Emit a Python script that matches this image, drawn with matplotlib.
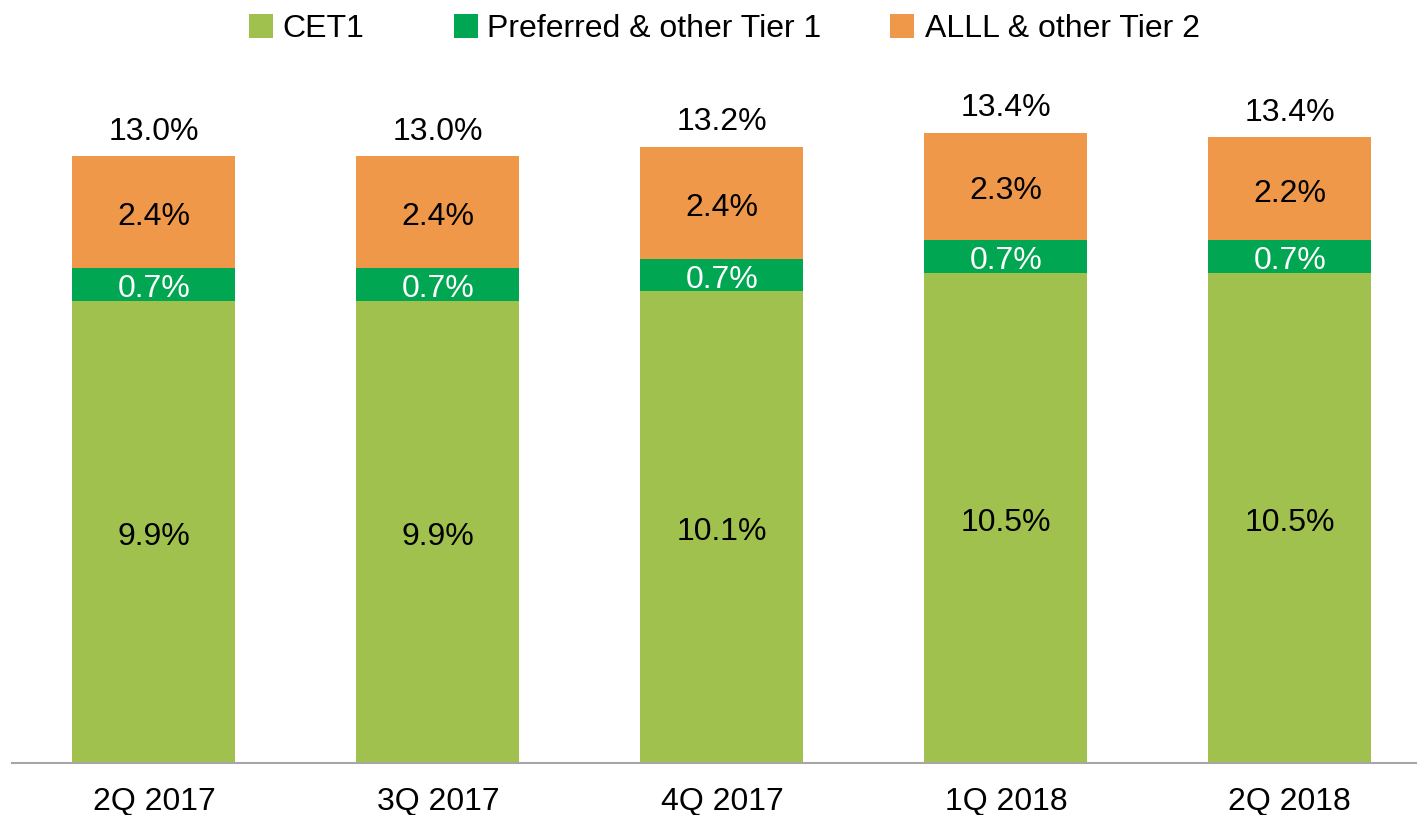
import matplotlib
matplotlib.use("Agg")
import matplotlib.pyplot as plt
from matplotlib.patches import Rectangle

plt.rcParams["font.family"] = ["Liberation Sans", "DejaVu Sans"]

quarters = ["2Q 2017", "3Q 2017", "4Q 2017", "1Q 2018", "2Q 2018"]
cet1 = [9.9, 9.9, 10.1, 10.5, 10.5]
preferred = [0.7, 0.7, 0.7, 0.7, 0.7]
alll = [2.4, 2.4, 2.4, 2.3, 2.2]
totals = [13.0, 13.0, 13.2, 13.4, 13.4]

series_names = ["CET1", "Preferred & other Tier 1", "ALLL & other Tier 2"]
colors = ["#A1C14E", "#00A651", "#F0984A"]
label_colors = ["black", "white", "black"]
FS = 23

W, H = 1417, 815
fig = plt.figure(figsize=(W / 100, H / 100), dpi=100)
ax = fig.add_axes([12 / W, 52 / H, (W - 12) / W, 677 / H])

x = list(range(len(quarters)))
bar_w = 0.574
bottoms = [0.0] * len(quarters)
for vals, color, lc in zip([cet1, preferred, alll], colors, label_colors):
    ax.bar(x, vals, bar_w, bottom=bottoms, color=color, linewidth=0)
    for xi, b, v in zip(x, bottoms, vals):
        ax.annotate(f"{v:.1f}%", (xi, b + v / 2), xytext=(0, -3.5),
                    textcoords="offset points", ha="center", va="center",
                    color=lc, fontsize=FS)
    bottoms = [b + v for b, v in zip(bottoms, vals)]

for xi, top, tot in zip(x, bottoms, totals):
    ax.annotate(f"{tot:.1f}%", (xi, top), xytext=(0, 17.5), textcoords="offset points",
                ha="center", va="center", fontsize=FS, color="black")

ax.set_xlim(-0.5, 4.448)
ax.set_ylim(0, 14.5)
ax.set_xticks(x)
ax.set_xticklabels(quarters, fontsize=FS)
ax.tick_params(axis="x", length=0, pad=17)
ax.set_yticks([])
for side in ["left", "right", "top"]:
    ax.spines[side].set_visible(False)
ax.spines["bottom"].set_color("#A6A6A6")
ax.spines["bottom"].set_linewidth(1.5)

# legend row across the top
legend_items = [(249, 282), (454, 487), (890, 925)]
for (sx, tx), name, color in zip(legend_items, series_names, colors):
    fig.add_artist(Rectangle((sx / W, 1 - 38 / H), 24 / W, 24 / H,
                             transform=fig.transFigure, color=color, linewidth=0))
    fig.text(tx / W, 1 - 29 / H, name, fontsize=FS, va="center", ha="left")

fig.savefig("out.png", dpi=100)
